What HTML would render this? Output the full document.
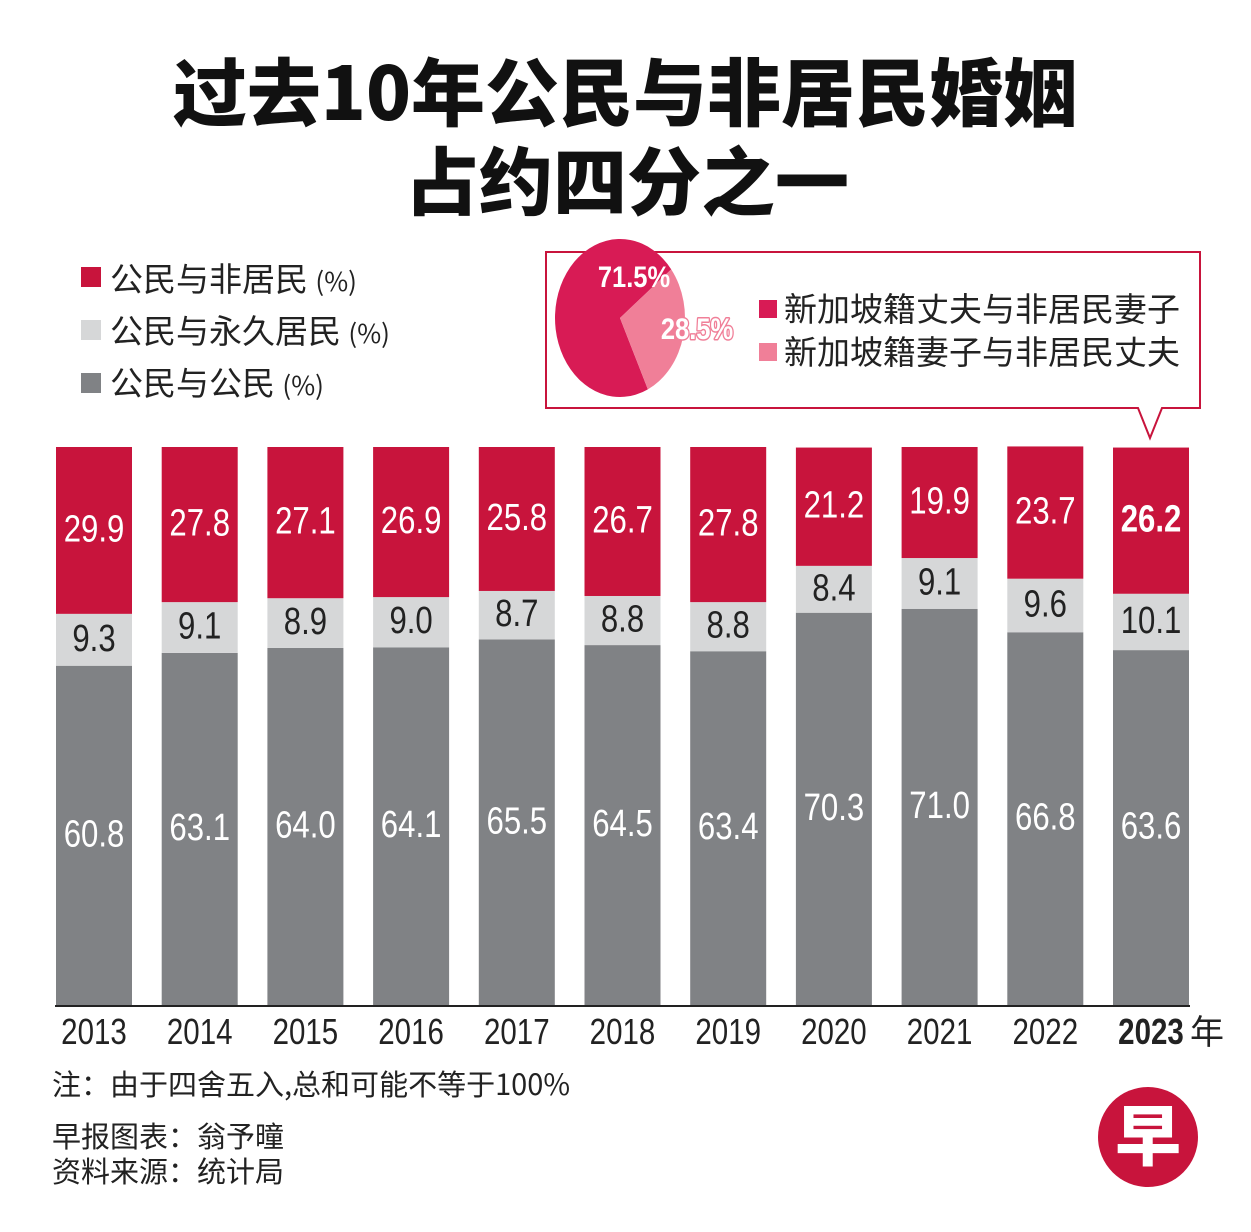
<!DOCTYPE html>
<html><head><meta charset="utf-8"><style>
body{margin:0;background:#fff;}
svg{display:block;font-family:"Liberation Sans","Noto Sans CJK SC",sans-serif;}
</style></head><body>
<svg width="1251" height="1232" viewBox="0 0 1251 1232">
<g font-family="'Noto Sans CJK SC',sans-serif" font-weight="900" font-size="74" fill="#111" text-anchor="middle">
<text x="625" y="120">过去10年公民与非居民婚姻</text>
<text x="627" y="209">占约四分之一</text>
</g>
<g font-family="'Noto Sans CJK SC',sans-serif" font-size="33" fill="#222">
<rect x="81" y="267" width="20" height="20" fill="#c8143c"/>
<text x="110" y="291">公民与非居民 <tspan font-size="26">(%)</tspan></text>
<rect x="81" y="320" width="20" height="20" fill="#d6d7d8"/>
<text x="110" y="343">公民与永久居民 <tspan font-size="26">(%)</tspan></text>
<rect x="81" y="373" width="20" height="20" fill="#808285"/>
<text x="110" y="395">公民与公民 <tspan font-size="26">(%)</tspan></text>
</g>
<path d="M546 252 H1200 V408 H1162 L1150 438 L1138 408 H546 Z" fill="#fff" stroke="#c8143c" stroke-width="2"/>
<g id="pie"></g>
<g font-family="'Noto Sans CJK SC',sans-serif" font-size="33" fill="#222">
<rect x="759" y="300" width="18" height="18" fill="#d81b55"/>
<text x="784" y="321">新加坡籍丈夫与非居民妻子</text>
<rect x="759" y="343" width="18" height="18" fill="#f07f98"/>
<text x="784" y="364">新加坡籍妻子与非居民丈夫</text>
</g>
<g id="bars"></g>
<line x1="55" y1="1006" x2="1190" y2="1006" stroke="#222" stroke-width="2"/>
<g id="years"></g>
<g font-family="'Noto Sans CJK SC',sans-serif" font-size="29" fill="#222">
<text x="52" y="1095">注：由于四舍五入,总和可能不等于100%</text>
<text x="52" y="1147">早报图表：翁予曈</text>
<text x="52" y="1182">资料来源：统计局</text>
</g>
<g>
<circle cx="1148" cy="1137" r="50" fill="#c8143c"/>
<text x="1148" y="1160" text-anchor="middle" font-family="'Noto Sans CJK SC',sans-serif" font-weight="900" font-size="66" fill="#fff">早</text>
</g>
</svg>
<script>
const years=["2013","2014","2015","2016","2017","2018","2019","2020","2021","2022","2023"];
const citizen=[60.8,63.1,64.0,64.1,65.5,64.5,63.4,70.3,71.0,66.8,63.6];
const pr=[9.3,9.1,8.9,9.0,8.7,8.8,8.8,8.4,9.1,9.6,10.1];
const nonres=[29.9,27.8,27.1,26.9,25.8,26.7,27.8,21.2,19.9,23.7,26.2];
const pieLabels=["71.5%","28.5%"];
const pieValues=[71.5,28.5];
const NS="http://www.w3.org/2000/svg";
const base=1005,scale=5.58,x0=56,pitch=105.7,bw=76;
const yv=v=>v*scale;
function mk(tag,attrs,parent){const e=document.createElementNS(NS,tag);for(const k in attrs)e.setAttribute(k,attrs[k]);parent.appendChild(e);return e;}
const bars=document.getElementById('bars'),yg=document.getElementById('years');
years.forEach((yr,i)=>{
  const x=x0+i*pitch;
  const last=i===years.length-1;
  const segs=[[citizen[i],'#808285','#fff','citizen'],[pr[i],'#d6d7d8','#222','pr'],[nonres[i],'#c8143c','#fff','nonresident']];
  let y=base;
  segs.forEach(s=>{
    const h=yv(s[0]);y-=h;
    const r=mk('rect',{x:x,y:y,width:bw,height:h,fill:s[1]},bars);
    
    
    const t=mk('text',{x:0,y:0,'text-anchor':'middle','font-size':38,fill:s[2],'font-weight':(last&&s[3]==='nonresident')?'bold':'normal',transform:`translate(${x+bw/2},${y+h/2+11}) scale(0.82,1)`},bars);
    t.textContent=s[0].toFixed(1);
    
    
  });
  const t=mk('text',{x:0,y:0,'text-anchor':'middle','font-size':36,fill:'#222','font-weight':last?'bold':'normal',transform:`translate(${x+bw/2},${1044}) scale(0.82,1)`},yg);
  t.textContent=yr;
  
  
});
const nian=mk('text',{x:1190,y:1044,'font-size':34,fill:'#222','font-family':"'Noto Sans CJK SC',sans-serif"},yg);
nian.textContent='年';


const pie=document.getElementById('pie');
const cx=620,cy=318,rx=65,ry=79;
const tot=pieValues.reduce((a,b)=>a+b,0);
let a0=52+pieValues[1]/tot*360;
const cols=['#d81b55','#f07f98'];
const pt=a=>{const r=(a-90)*Math.PI/180;return [cx+rx*Math.cos(r),cy+ry*Math.sin(r)];};
let ang=a0;
pieValues.forEach((v,i)=>{
  const sweep=v/tot*360;const p1=pt(ang),p2=pt(ang+sweep);
  const p=mk('path',{d:`M${cx} ${cy} L${p1[0]} ${p1[1]} A${rx} ${ry} 0 ${sweep>180?1:0} 1 ${p2[0]} ${p2[1]} Z`,fill:cols[i]},pie);
  
  
  ang+=sweep;
});
const l1=mk('text',{x:0,y:0,'font-size':30,'font-weight':'bold',fill:'#fff','text-anchor':'middle',transform:'translate(634,287) scale(0.85,1)'},pie);
l1.textContent=pieLabels[0];


const l2=mk('text',{x:0,y:0,'font-size':30,'font-weight':'bold',fill:'#fff',stroke:'#f07f98','stroke-width':3,'paint-order':'stroke','stroke-linejoin':'round','text-anchor':'middle',transform:'translate(697,339) scale(0.85,1)'},pie);
l2.textContent=pieLabels[1];


</script>
</body></html>
